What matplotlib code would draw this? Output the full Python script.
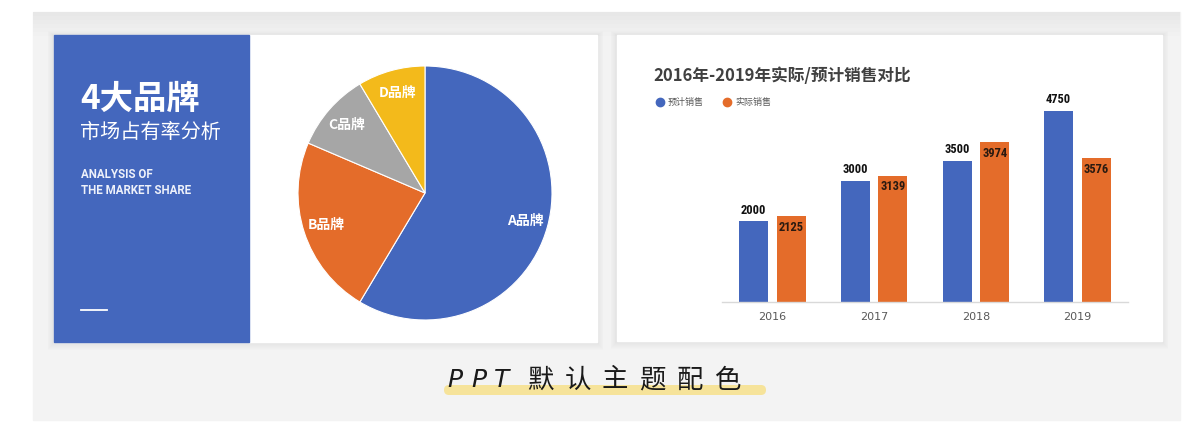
import matplotlib
matplotlib.use('Agg')
import matplotlib.pyplot as plt
from matplotlib import font_manager
from matplotlib.patches import Rectangle, FancyBboxPatch
import numpy as np

# ---------------- data ----------------
brands = ['A品牌', 'B品牌', 'C品牌', 'D品牌']
shares = [8.2, 3.2, 1.4, 1.2]
years = ['2016', '2017', '2018', '2019']
forecast = [2000, 3000, 3500, 4750]
actual = [2125, 3139, 3974, 3576]
series_names = ['预计销售', '实际销售']
chart_title = '2016年-2019年实际/预计销售对比'
caption_chars = ['P', 'P', 'T', '默', '认', '主', '题', '配', '色']

BLUE = '#4467BD'
ORANGE = '#E46C2A'
GRAY = '#A6A6A6'
YELLOW = '#F3BA1B'

CJK = ['Noto Sans CJK SC', 'DejaVu Sans']
plt.rcParams['font.family'] = CJK

names = {f.name for f in font_manager.fontManager.ttflist}


def pick(cands, default):
    for c in cands:
        if c in names:
            return c
    return default


NARROW = pick(['Liberation Sans Narrow', 'Roboto Condensed', 'DejaVu Sans'], 'DejaVu Sans')
NARROW_SIZE = {'Liberation Sans Narrow': 9.5, 'Roboto Condensed': 9.0}.get(NARROW, 8.0)

W, H = 1200, 424
fig = plt.figure(figsize=(12, 4.24), dpi=100)
fig.patch.set_facecolor('white')
bg = fig.add_axes([0, 0, 1, 1])
bg.set_xlim(0, W)
bg.set_ylim(H, 0)
bg.axis('off')

# grey backdrop
bg.add_patch(Rectangle((33, 12), 1147, 408, color='#f3f3f3', zorder=0))
for k in range(6):
    bg.add_patch(Rectangle((33, 12), 1147, 4 + k * 4, color='black', alpha=0.006, lw=0, zorder=0))

# soft shadows
for (x0, y0, w0, h0) in [(54, 35, 543, 307), (617, 35, 545, 306)]:
    for k in range(1, 9):
        bg.add_patch(Rectangle((x0 - k * 0.8, y0 - k * 0.5), w0 + 1.6 * k, h0 + 1.5 * k,
                               color='black', alpha=0.006, lw=0, zorder=1))

# slides
bg.add_patch(Rectangle((54, 35), 543, 307, color='white', zorder=2))
bg.add_patch(Rectangle((54, 35), 195, 307, color=BLUE, zorder=3))
bg.add_patch(Rectangle((617, 35), 545, 306, color='white', zorder=2))

# left panel text
bg.text(80, 99, '4大品牌', color='white', fontsize=24, fontweight='heavy',
        va='center', ha='left', zorder=5)
bg.text(80, 133, '市场占有率分析', color='white', fontsize=14.5,
        va='center', ha='left', zorder=5)
bg.text(81, 174.5, 'ANALYSIS OF', color='#eef1fa', fontsize=8.3,
        fontweight='bold', family=['Roboto', 'DejaVu Sans'], va='center', ha='left', zorder=5)
bg.text(81, 191, 'THE MARKET SHARE', color='#eef1fa', fontsize=8.3,
        fontweight='bold', family=['Roboto', 'DejaVu Sans'], va='center', ha='left', zorder=5)
bg.plot([81, 107], [309.5, 309.5], color='white', lw=1.3, zorder=5)

# ---------------- pie ----------------
pax = fig.add_axes([298 / W, (H - 320) / H, 254 / W, 254 / H])
wedges, texts = pax.pie(shares, colors=[BLUE, ORANGE, GRAY, YELLOW], startangle=90,
                        counterclock=False, labels=brands, labeldistance=0.82,
                        wedgeprops=dict(edgecolor='white', linewidth=0.8),
                        textprops=dict(color='white', fontsize=10, fontweight='bold'))
for t in texts:
    t.set_ha('center')
    t.set_va('center')
pax.set_xlim(-1.0, 1.0)
pax.set_ylim(-1.0, 1.0)
pax.set_aspect('equal')

# ---------------- bars ----------------
bax = fig.add_axes([721.7 / W, (H - 302) / H, 406.6 / W, 201.4 / H])
bax.set_facecolor('none')
x = np.arange(len(years))
bw = 0.285
off = 0.185
b1 = bax.bar(x - off, forecast, width=bw, color=BLUE, zorder=2)
b2 = bax.bar(x + off, actual, width=bw, color=ORANGE, zorder=2)
bax.set_xlim(-0.5, 3.5)
bax.set_ylim(0, 5000)
bax.set_yticks([])
bax.set_xticks(x, years)
bax.tick_params(axis='x', length=0, pad=7, labelsize=8, labelcolor='#595959')
for lab in bax.get_xticklabels():
    lab.set_family(['DejaVu Sans'])
for s in ['top', 'left', 'right']:
    bax.spines[s].set_visible(False)
bax.spines['bottom'].set_color('#d9d9d9')
bax.spines['bottom'].set_linewidth(1.0)

for xi, v in zip(x, forecast):
    bax.annotate(str(v), (xi - off, v), xytext=(0, 3.5), textcoords='offset points',
                 ha='center', va='bottom', fontsize=NARROW_SIZE, fontweight='bold',
                 family=[NARROW], color='#111111')
for xi, v in zip(x, actual):
    bax.annotate(str(v), (xi + off, v), xytext=(0, -3.5), textcoords='offset points',
                 ha='center', va='top', fontsize=NARROW_SIZE, fontweight='bold',
                 family=[NARROW], color='#2a1a10')

# title and legend
bg.text(653, 75.5, chart_title, fontsize=12, fontweight='bold', color='#404040',
        ha='left', va='center', zorder=5)
bg.plot([660], [102.3], 'o', ms=6, color=BLUE, zorder=5)
bg.text(668, 102.3, series_names[0], fontsize=6.5, color='#595959', ha='left', va='center', zorder=5)
bg.plot([727], [102.3], 'o', ms=6, color=ORANGE, zorder=5)
bg.text(735, 102.3, series_names[1], fontsize=6.5, color='#595959', ha='left', va='center', zorder=5)

# caption with highlight
bg.add_patch(FancyBboxPatch((444, 385), 322, 10, boxstyle='round,pad=0,rounding_size=5',
                            color='#F6E39A', lw=0, zorder=4))
cx = [455, 479, 502, 540, 578, 615, 652, 690, 728]
for ch, xc in zip(caption_chars, cx):
    if ch.isascii():
        bg.text(xc, 380, ch, fontsize=18, style='italic', family=['DejaVu Sans'],
                fontweight='light', color='#1a1a1a', ha='center', va='center', zorder=5)
    else:
        bg.text(xc, 380, ch, fontsize=19, color='#1a1a1a', ha='center', va='center', zorder=5)

fig.savefig('out.png', dpi=100, facecolor='white')
